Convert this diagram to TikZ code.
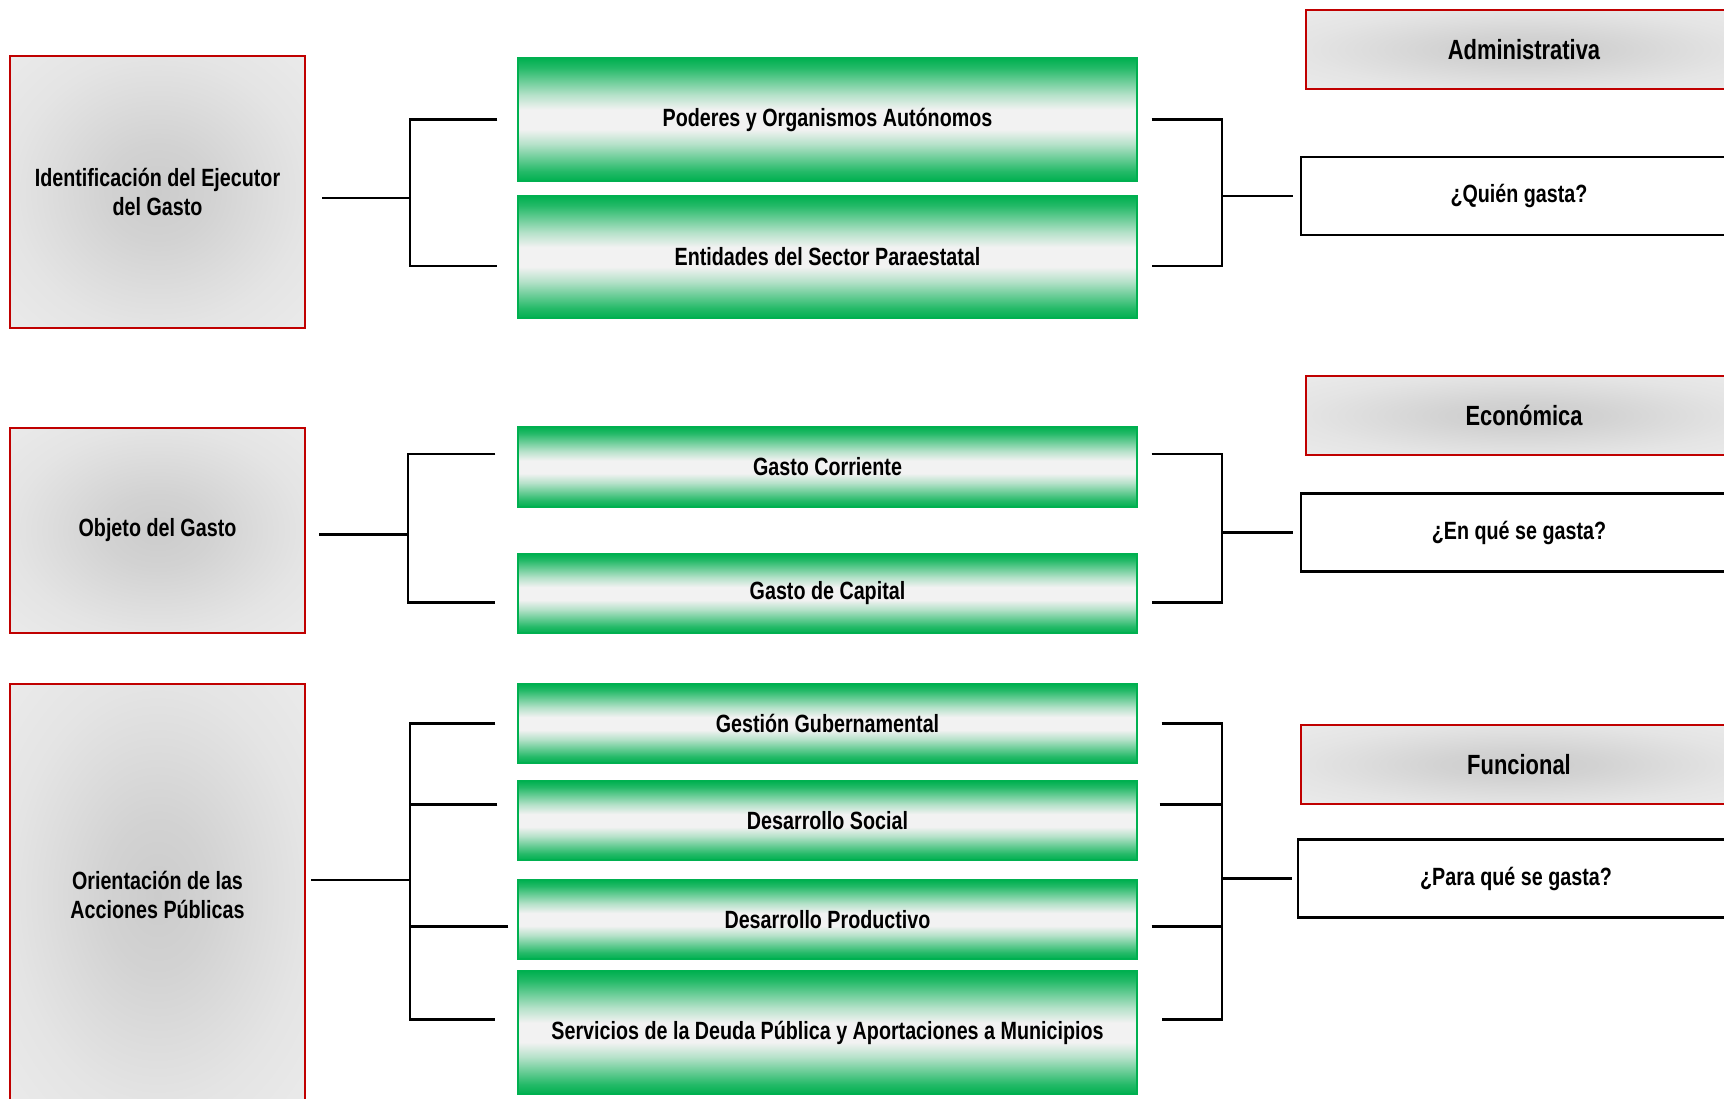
\documentclass[tikz,border=0pt]{standalone}
\usepackage{fontspec}
\setmainfont{Liberation Sans}[FakeStretch=0.79]

\definecolor{cuadroRojo}{RGB}{192,0,0}
\definecolor{verdeBarra}{RGB}{0,176,80}
\definecolor{grisClaro}{RGB}{242,242,242}
% el cuadro ocupa 25bp de radio / la franja 25bp..75bp
\pgfdeclareradialshading{grisRadial}{\pgfpoint{0bp}{0bp}}{%
  color(0bp)=(black!20); color(9bp)=(black!17.5); color(19bp)=(black!13); color(25bp)=(black!10.5);
  color(36bp)=(black!8); color(50bp)=(black!8)}
\pgfdeclareverticalshading{verdeBanda}{100bp}{%
  color(0bp)=(verdeBarra); color(25bp)=(verdeBarra); color(29bp)=(verdeBarra!85!grisClaro);
  color(40bp)=(verdeBarra!25!grisClaro); color(46bp)=(grisClaro); color(54bp)=(grisClaro);
  color(60bp)=(verdeBarra!25!grisClaro); color(71bp)=(verdeBarra!85!grisClaro);
  color(75bp)=(verdeBarra); color(100bp)=(verdeBarra)}

\begin{document}
\begin{tikzpicture}[x=0.1mm,y=-0.1mm,
  every node/.style={inner sep=0pt,align=center,font=\fontsize{7.1}{8}\selectfont\bfseries},
  clase/.style={draw=cuadroRojo,line width=0.6pt,shading=grisRadial,minimum width=29.5mm},
  tipo/.style={draw=cuadroRojo,line width=0.6pt,shading=grisRadial,minimum width=43.6mm,minimum height=7.9mm,
    font=\fontsize{7.9}{9}\selectfont\bfseries},
  barra/.style={draw=verdeBarra,line width=0.4pt,shading=verdeBanda,minimum width=61.9mm},
  pregunta/.style={draw=black,line width=0.6pt,fill=white,minimum width=43.6mm,minimum height=7.8mm},
  enlace/.style={draw=black,line width=0.8pt}]
\useasboundingbox (0,0) rectangle (1724,1098);

% clasificaciones
\node[clase,minimum height=27.2mm] (ident) at (157.5,192) {Identificación del Ejecutor\\del Gasto};
\node[clase,minimum height=20.5mm] (objeto) at (157.5,530.5) {Objeto del Gasto};
\node[clase,minimum height=42.2mm] (orient) at (157.5,895) {Orientación de las\\Acciones Públicas};

% barras verdes
\node[barra,minimum height=12.3mm] (poder) at (827.5,119.5) {Poderes y Organismos Autónomos};
\node[barra,minimum height=12.2mm] (entid) at (827.5,257) {Entidades del Sector Paraestatal};
\node[barra,minimum height=8mm] (gcor) at (827.5,467) {Gasto Corriente};
\node[barra,minimum height=7.9mm] (gcap) at (827.5,593.5) {Gasto de Capital};
\node[barra,minimum height=7.9mm] (gest) at (827.5,723.5) {Gestión Gubernamental};
\node[barra,minimum height=7.9mm] (dsoc) at (827.5,820.5) {Desarrollo Social};
\node[barra,minimum height=7.9mm] (dprod) at (827.5,919.5) {Desarrollo Productivo};
\node[barra,minimum height=12.3mm] (serv) at (827.5,1032.5) {Servicios de la Deuda Pública y Aportaciones a Municipios};

% tipos y preguntas
\node[tipo] (admin) at (1524,49.5) {Administrativa};
\node[pregunta] (quien) at (1519,196) {¿Quién gasta?};
\node[tipo] (econ) at (1524,415.5) {Económica};
\node[pregunta] (enque) at (1519,532.5) {¿En qué se gasta?};
\node[tipo] (func) at (1519,764.5) {Funcional};
\node[pregunta] (paraque) at (1516,878.5) {¿Para qué se gasta?};

% puntos de union
\coordinate (sI1) at ([xshift=1.6mm,yshift=-0.6mm]ident.east);
\coordinate (sI2) at ([xshift=1.3mm,yshift=-0.4mm]objeto.east);
\coordinate (sI3) at ([xshift=0.5mm,yshift=1.5mm]orient.east);
\coordinate (uI1) at ([xshift=10.4mm]ident.east);
\coordinate (uI2) at ([xshift=10.2mm]objeto.east);
\coordinate (uI3) at ([xshift=10.4mm]orient.east);
\coordinate (uD1) at ([xshift=-7.8mm]quien.west);
\coordinate (uD2) at ([xshift=-7.8mm]enque.west);
\coordinate (uD3) at ([xshift=-7.5mm]paraque.west);

% llaves izquierda
\draw[enlace] (sI1) -- (sI1 -| uI1);
\draw[enlace] ([xshift=-2mm]poder.west) -| (uI1) |- ([xshift=-2mm,yshift=-0.9mm]entid.west);
\draw[enlace] (sI2) -- (sI2 -| uI2);
\draw[enlace] ([xshift=-2.2mm,yshift=1.3mm]gcor.west) -| (uI2) |- ([xshift=-2.2mm,yshift=-0.9mm]gcap.west);
\draw[enlace] (sI3) -- (sI3 -| uI3);
\draw[enlace] ([xshift=-2.2mm]gest.west) -| (uI3) |- ([xshift=-2.2mm,yshift=1.3mm]serv.west);
\draw[enlace] ([xshift=-2mm,yshift=1.6mm]dsoc.west) -- ([yshift=1.6mm]dsoc.west -| uI3);
\draw[enlace] ([xshift=-0.9mm,yshift=-0.7mm]dprod.west) -- ([yshift=-0.7mm]dprod.west -| uI3);

% llaves derecha
\draw[enlace] ([xshift=1.4mm]poder.east) -| (uD1) |- ([xshift=1.4mm,yshift=-0.9mm]entid.east);
\draw[enlace] (uD1) -- ([xshift=-0.7mm]quien.west);
\draw[enlace] ([xshift=1.4mm,yshift=1.3mm]gcor.east) -| (uD2) |- ([xshift=1.4mm,yshift=-0.9mm]gcap.east);
\draw[enlace] (uD2) -- ([xshift=-0.7mm]enque.west);
\draw[enlace] ([xshift=2.4mm]gest.east) -| (uD3) |- ([xshift=2.4mm,yshift=1.3mm]serv.east);
\draw[enlace] ([xshift=2.2mm,yshift=1.6mm]dsoc.east) -- ([yshift=1.6mm]dsoc.east -| uD3);
\draw[enlace] ([xshift=1.4mm,yshift=-0.7mm]dprod.east) -- ([yshift=-0.7mm]dprod.east -| uD3);
\draw[enlace] (uD3) -- ([xshift=-0.5mm]paraque.west);
\end{tikzpicture}
\end{document}
